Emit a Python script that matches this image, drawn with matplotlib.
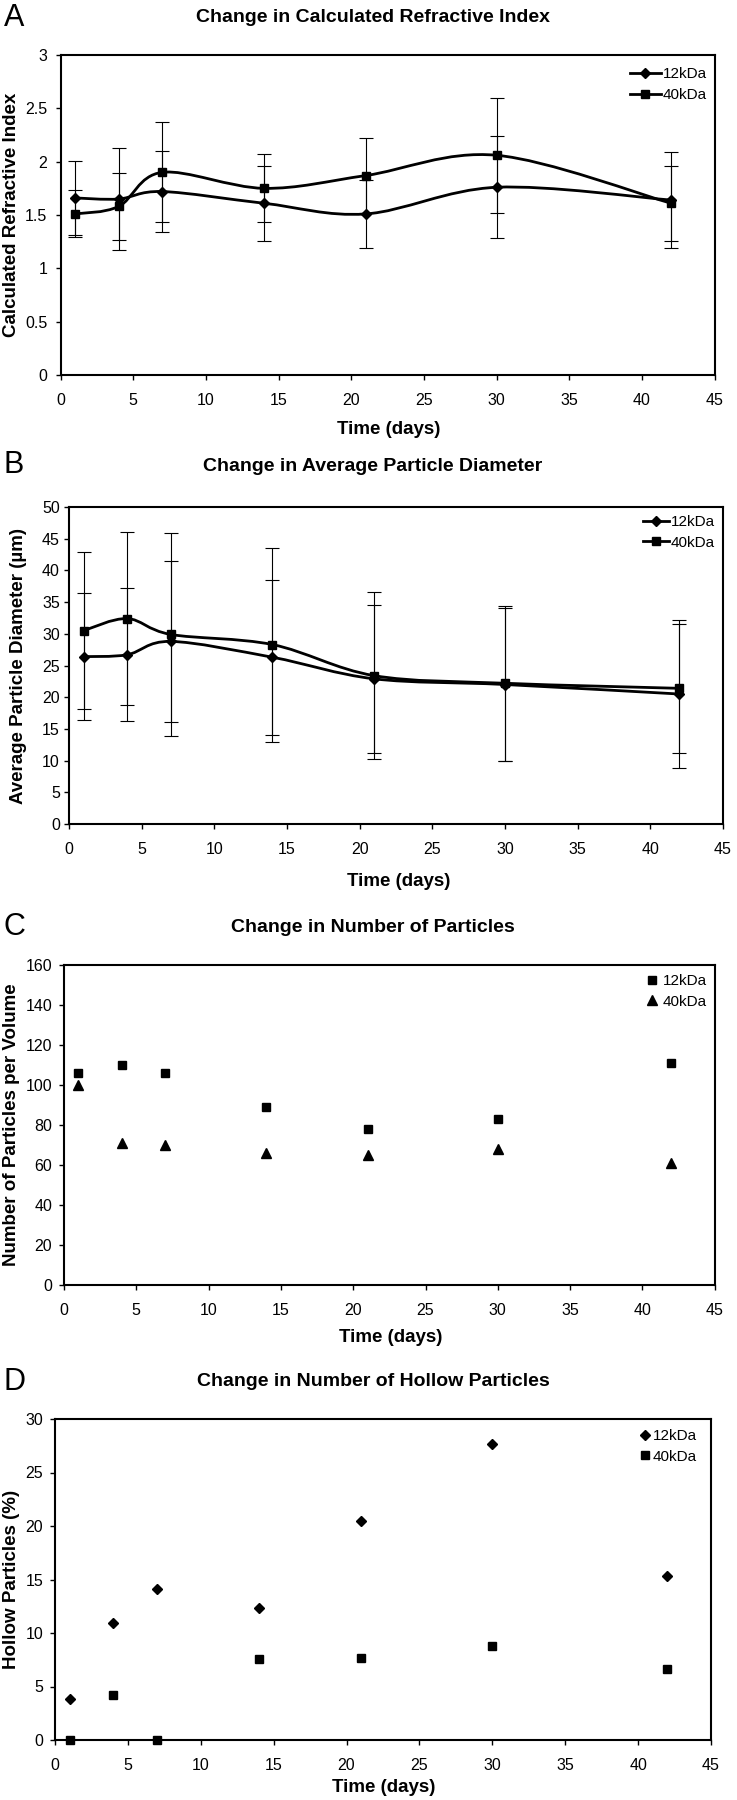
import matplotlib
matplotlib.use('Agg')
import matplotlib.pyplot as plt
import numpy as np
from matplotlib.path import Path
from matplotlib.patches import PathPatch
from matplotlib.lines import Line2D
from matplotlib import font_manager

# ---------------- data ----------------
days = [1, 4, 7, 14, 21, 30, 42]
series_labels = ['12kDa', '40kDa']

ri_12 = [1.66, 1.65, 1.72, 1.61, 1.51, 1.76, 1.64]
ri_12_err = [0.35, 0.48, 0.38, 0.35, 0.32, 0.48, 0.45]
ri_40 = [1.51, 1.58, 1.90, 1.75, 1.87, 2.06, 1.61]
ri_40_err = [0.22, 0.31, 0.47, 0.32, 0.35, 0.54, 0.35]

dia_12 = [26.4, 26.7, 28.8, 26.3, 22.9, 22.0, 20.5]
dia_12_err = [10.0, 10.5, 12.7, 12.2, 11.7, 12.0, 11.6]
dia_40 = [30.5, 32.4, 29.9, 28.3, 23.4, 22.2, 21.4]
dia_40_err = [12.4, 13.7, 16.0, 15.3, 13.2, 12.2, 10.2]

num_12 = [106, 110, 106, 89, 78, 83, 111]
num_40 = [100, 71, 70, 66, 65, 68, 61]

hol_12 = [3.8, 10.9, 14.1, 12.3, 20.5, 27.7, 15.3]
hol_40 = [0.0, 4.2, 0.0, 7.6, 7.7, 8.8, 6.6]

x_ticks = list(range(0, 46, 5))
titles = ['Change in Calculated Refractive Index',
          'Change in Average Particle Diameter',
          'Change in Number of Particles',
          'Change in Number of Hollow Particles']
ylabels = ['Calculated Refractive Index',
           'Average Particle Diameter (\u00b5m)',
           'Number of Particles per Volume',
           'Hollow Particles (%)']
xlabel = 'Time (days)'
letters = ['A', 'B', 'C', 'D']

# ---------------- fonts ----------------
def pick(fams):
    for f in fams:
        try:
            font_manager.findfont(font_manager.FontProperties(family=f),
                                  fallback_to_default=False)
            return f
        except Exception:
            pass
    return 'DejaVu Sans'

FONT = pick(['Liberation Sans', 'Arial', 'DejaVu Sans'])
plt.rcParams['font.family'] = [FONT, 'DejaVu Sans']

W, H = 737, 1800
fig = plt.figure(figsize=(W / 100, H / 100), dpi=100)


def ftext(x, y, s, **kw):
    fig.text(x / W, 1 - y / H, s, ha='center', va='center', **kw)


def add_axes(l, t, r, b):
    return fig.add_axes([l / W, 1 - b / H, (r - l) / W, (b - t) / H])


def smooth_path(x, y):
    P = np.column_stack([x, y]).astype(float)
    n = len(P)
    verts = [P[0]]
    codes = [Path.MOVETO]
    for i in range(n - 1):
        p0 = P[i - 1] if i > 0 else P[i]
        p1 = P[i]
        p2 = P[i + 1]
        p3 = P[i + 2] if i + 2 < n else P[i + 1]
        c1 = p1 + (p2 - p0) / 6.0
        c2 = p2 - (p3 - p1) / 6.0
        verts += [c1, c2, p2]
        codes += [Path.CURVE4] * 3
    return Path(verts, codes)


def style_axes(ax, ylim, yticks, ypad):
    ax.set_xlim(0, 45)
    ax.set_ylim(*ylim)
    ax.set_xticks(x_ticks)
    ax.set_yticks(yticks)
    ax.set_xticklabels([f'{v:g}' for v in x_ticks])
    ax.set_yticklabels([f'{v:g}' for v in yticks])
    for s in ax.spines.values():
        s.set_linewidth(1.5)
        s.set_color('black')
    ax.tick_params(axis='both', direction='out', length=3.6, width=1.0,
                   labelsize=11.5, colors='black')
    ax.tick_params(axis='x', pad=9.5)
    ax.tick_params(axis='y', pad=ypad)


# pixel boxes (left, top, right, bottom)
boxes = [(60.5, 55, 714.7, 375),
         (69, 507, 723, 824),
         (64, 965, 714.7, 1285),
         (55, 1419, 711, 1740)]

title_y = [18, 467, 927, 1382]
letter_y = [18, 465, 927, 1382]
xlabel_pos = [(389, 430), (399, 882), (391, 1338), (384, 1787)]
ylabel_x = [12, 19, 12, 12]

LW = 2.0
ELW = 0.8
CAP = 4.8

# ---------- Panel A ----------
axA = add_axes(*boxes[0])
style_axes(axA, (0, 3), [0, 0.5, 1, 1.5, 2, 2.5, 3], 6)
for y, e, mk, ms in [(ri_12, ri_12_err, 'D', 4.6), (ri_40, ri_40_err, 's', 5.5)]:
    axA.errorbar(days, y, yerr=e, fmt='none', ecolor='black', elinewidth=ELW,
                 capsize=CAP, capthick=ELW, zorder=2)
    axA.add_patch(PathPatch(smooth_path(days, y), fill=False, ec='black',
                            lw=LW, zorder=3))
    axA.plot(days, y, linestyle='none', marker=mk, ms=ms, color='black', zorder=4)
hA = [Line2D([], [], color='black', lw=LW, marker='D', ms=4.6),
      Line2D([], [], color='black', lw=LW, marker='s', ms=5.5)]
axA.legend(hA, series_labels, loc='upper right', bbox_to_anchor=(0.988, 0.962),
           frameon=False, borderaxespad=0, borderpad=0, handlelength=2.0,
           handletextpad=0.13, labelspacing=0.45, fontsize=11)

# ---------- Panel B ----------
axB = add_axes(*boxes[1])
style_axes(axB, (0, 50), list(range(0, 51, 5)), 3)
for y, e, mk, ms in [(dia_12, dia_12_err, 'D', 4.6), (dia_40, dia_40_err, 's', 5.5)]:
    axB.errorbar(days, y, yerr=e, fmt='none', ecolor='black', elinewidth=ELW,
                 capsize=CAP, capthick=ELW, zorder=2)
    axB.add_patch(PathPatch(smooth_path(days, y), fill=False, ec='black',
                            lw=LW, zorder=3))
    axB.plot(days, y, linestyle='none', marker=mk, ms=ms, color='black', zorder=4)
hB = [Line2D([], [], color='black', lw=LW, marker='D', ms=4.6),
      Line2D([], [], color='black', lw=LW, marker='s', ms=5.5)]
axB.legend(hB, series_labels, loc='upper right', bbox_to_anchor=(0.988, 0.975),
           frameon=False, borderaxespad=0, borderpad=0, handlelength=1.7,
           handletextpad=0.13, labelspacing=0.45, fontsize=11)

# ---------- Panel C ----------
axC = add_axes(*boxes[2])
style_axes(axC, (0, 160), list(range(0, 161, 20)), 5)
axC.plot(days, num_12, linestyle='none', marker='s', ms=6.3, color='black',
         label=series_labels[0], zorder=4)
axC.plot(days, num_40, linestyle='none', marker='^', ms=6.8, color='black',
         label=series_labels[1], zorder=4)
axC.legend(loc='upper right', bbox_to_anchor=(0.988, 0.972),
           frameon=False, borderaxespad=0, borderpad=0, handlelength=1.0,
           handletextpad=0.2, labelspacing=0.45, fontsize=11)

# ---------- Panel D ----------
axD = add_axes(*boxes[3])
style_axes(axD, (0, 30), list(range(0, 31, 5)), 5)
axD.plot(days, hol_12, linestyle='none', marker='D', ms=5.0, color='black',
         label=series_labels[0], zorder=4, clip_on=False)
axD.plot(days, hol_40, linestyle='none', marker='s', ms=6.0, color='black',
         label=series_labels[1], zorder=4, clip_on=False)
axD.legend(loc='upper right', bbox_to_anchor=(0.979, 0.969),
           frameon=False, borderaxespad=0, borderpad=0, handlelength=0.8,
           handletextpad=0.15, labelspacing=0.45, fontsize=11)

# ---------- texts ----------
for i in range(4):
    ftext(14, letter_y[i], letters[i], fontsize=22)
    ftext(373, title_y[i], titles[i], fontsize=14, fontweight='bold')
    ftext(xlabel_pos[i][0], xlabel_pos[i][1], xlabel, fontsize=13.5,
          fontweight='bold')
    l, t, r, b = boxes[i]
    ftext(ylabel_x[i], (t + b) / 2, ylabels[i], fontsize=13.5,
          fontweight='bold', rotation=90)

fig.savefig('out.png', dpi=100)
